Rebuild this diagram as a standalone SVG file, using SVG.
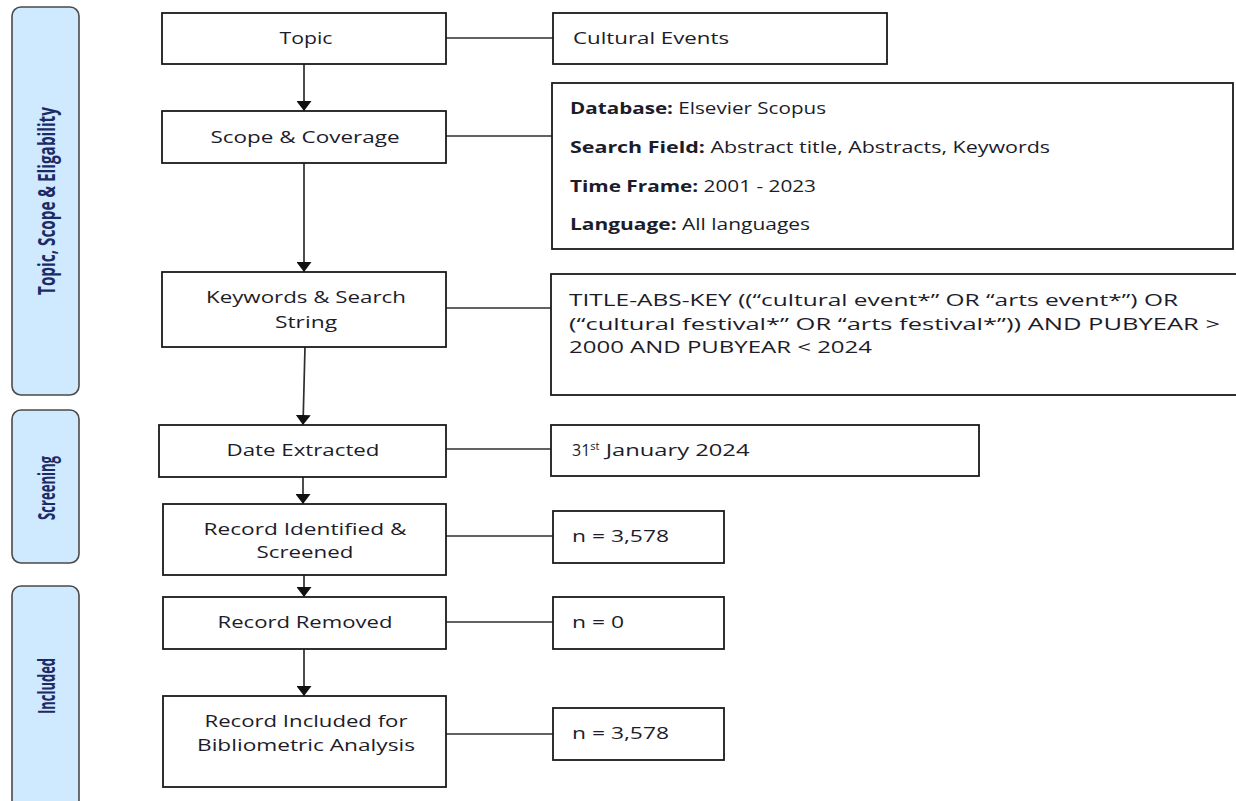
<svg xmlns="http://www.w3.org/2000/svg" width="1236" height="801" viewBox="0 0 1236 801">
<style>
.bg{fill:#ffffff}
.panel{fill:#cfeaff;stroke:#4a4a4a;stroke-width:1.6}
.plabel{font-family:"Open Sans","Liberation Sans",sans-serif;font-weight:bold;font-size:24px;fill:#1c2a66}
.box{fill:#ffffff;stroke:#1a1a1a;stroke-width:1.8}
.t{font-family:"Open Sans","Liberation Sans",sans-serif;font-size:17px;fill:#1c1c2a}
.r{font-size:16px}
.b{font-weight:bold}
.conn line{stroke:#2e2e2e;stroke-width:1.7;fill:none}
.arrow{marker-end:url(#ah)}
</style>
<defs>
<marker id="ah" markerWidth="11" markerHeight="15" refX="10" refY="7.5" orient="auto" markerUnits="userSpaceOnUse">
<path d="M0,0 L10,7.5 L0,15 Z" fill="#111"/>
</marker>
</defs>
<rect class="bg" x="0" y="0" width="1236" height="801"/>

<g id="panel-topic">
<rect class="panel" x="12" y="7" width="67" height="388" rx="9"/>
<text class="plabel" transform="translate(55,201) rotate(-90)" text-anchor="middle" textLength="188" lengthAdjust="spacingAndGlyphs">Topic, Scope &amp; Eligability</text>
</g>
<g id="panel-screening">
<rect class="panel" x="12" y="410" width="67" height="153" rx="9"/>
<text class="plabel" transform="translate(55,488) rotate(-90)" text-anchor="middle" textLength="64" lengthAdjust="spacingAndGlyphs">Screening</text>
</g>
<g id="panel-included">
<rect class="panel" x="12" y="586" width="67" height="230" rx="9"/>
<text class="plabel" transform="translate(55,686) rotate(-90)" text-anchor="middle" textLength="56" lengthAdjust="spacingAndGlyphs">Included</text>
</g>

<g class="conn" id="connectors">
<line class="arrow" x1="304" y1="64" x2="304" y2="111"/>
<line class="arrow" x1="304" y1="163" x2="304" y2="272"/>
<line class="arrow" x1="305" y1="347" x2="303" y2="425"/>
<line class="arrow" x1="303" y1="477" x2="303" y2="504"/>
<line class="arrow" x1="304" y1="575" x2="304" y2="597"/>
<line class="arrow" x1="304" y1="649" x2="304" y2="696"/>
<line x1="446" y1="38" x2="553" y2="38"/>
<line x1="446" y1="136" x2="552" y2="136"/>
<line x1="446" y1="308" x2="551" y2="308"/>
<line x1="446" y1="449" x2="551" y2="449"/>
<line x1="446" y1="536" x2="553" y2="536"/>
<line x1="446" y1="622" x2="553" y2="622"/>
<line x1="446" y1="734" x2="553" y2="734"/>
</g>

<g id="topic">
<rect class="box" x="162" y="13" width="284" height="51"/>
<text class="t" x="306" y="44" text-anchor="middle" textLength="53" lengthAdjust="spacingAndGlyphs">Topic</text>
</g>
<g id="scope">
<rect class="box" x="162" y="111" width="284" height="52"/>
<text class="t" x="305" y="143" text-anchor="middle" textLength="189" lengthAdjust="spacingAndGlyphs">Scope &amp; Coverage</text>
</g>
<g id="keywords">
<rect class="box" x="162" y="272" width="284" height="75"/>
<text class="t" x="306" y="303" text-anchor="middle" textLength="200" lengthAdjust="spacingAndGlyphs">Keywords &amp; Search</text>
<text class="t" x="306" y="328" text-anchor="middle" textLength="62" lengthAdjust="spacingAndGlyphs">String</text>
</g>
<g id="date">
<rect class="box" x="159" y="425" width="287" height="52"/>
<text class="t" x="303" y="456" text-anchor="middle" textLength="153" lengthAdjust="spacingAndGlyphs">Date Extracted</text>
</g>
<g id="identified">
<rect class="box" x="163" y="504" width="283" height="71"/>
<text class="t" x="305" y="535" text-anchor="middle" textLength="203" lengthAdjust="spacingAndGlyphs">Record Identified &amp;</text>
<text class="t" x="305" y="558" text-anchor="middle" textLength="97" lengthAdjust="spacingAndGlyphs">Screened</text>
</g>
<g id="removed">
<rect class="box" x="163" y="597" width="283" height="52"/>
<text class="t" x="305" y="628" text-anchor="middle" textLength="175" lengthAdjust="spacingAndGlyphs">Record Removed</text>
</g>
<g id="included">
<rect class="box" x="163" y="696" width="283" height="91"/>
<text class="t" x="306" y="727" text-anchor="middle" textLength="203" lengthAdjust="spacingAndGlyphs">Record Included for</text>
<text class="t" x="306" y="751" text-anchor="middle" textLength="218" lengthAdjust="spacingAndGlyphs">Bibliometric Analysis</text>
</g>

<g id="cultural">
<rect class="box" x="553" y="13" width="334" height="51"/>
<text class="t r" x="573" y="44" textLength="156" lengthAdjust="spacingAndGlyphs">Cultural Events</text>
</g>
<g id="database">
<rect class="box" x="552" y="83" width="681" height="166"/>
<text class="t r" x="570" y="114" textLength="256" lengthAdjust="spacingAndGlyphs"><tspan class="b">Database:</tspan> Elsevier Scopus</text>
<text class="t r" x="570" y="153" textLength="480" lengthAdjust="spacingAndGlyphs"><tspan class="b">Search Field:</tspan> Abstract title, Abstracts, Keywords</text>
<text class="t r" x="570" y="192" textLength="246" lengthAdjust="spacingAndGlyphs"><tspan class="b">Time Frame:</tspan> 2001 - 2023</text>
<text class="t r" x="570" y="230" textLength="240" lengthAdjust="spacingAndGlyphs"><tspan class="b">Language:</tspan> All languages</text>
</g>
<g id="search-string">
<rect class="box" x="551" y="274" width="690" height="121"/>
<text class="t r" x="569" y="306" textLength="609" lengthAdjust="spacingAndGlyphs">TITLE-ABS-KEY ((“cultural event*” OR “arts event*”) OR</text>
<text class="t r" x="569" y="330" textLength="651" lengthAdjust="spacingAndGlyphs">(“cultural  festival*”  OR  “arts  festival*”))  AND  PUBYEAR  &gt;</text>
<text class="t r" x="569" y="353" textLength="303" lengthAdjust="spacingAndGlyphs">2000 AND PUBYEAR &lt; 2024</text>
</g>
<g id="date-value">
<rect class="box" x="551" y="425" width="428" height="51"/>
<text class="t r" x="572" y="456">31<tspan font-size="11" dy="-6">st</tspan><tspan dy="6" textLength="150" lengthAdjust="spacingAndGlyphs"> January 2024</tspan></text>
</g>
<g id="n-identified">
<rect class="box" x="553" y="511" width="171" height="52"/>
<text class="t r" x="572" y="542" textLength="97" lengthAdjust="spacingAndGlyphs">n = 3,578</text>
</g>
<g id="n-removed">
<rect class="box" x="553" y="597" width="171" height="52"/>
<text class="t r" x="572" y="628" textLength="52" lengthAdjust="spacingAndGlyphs">n = 0</text>
</g>
<g id="n-included">
<rect class="box" x="553" y="708" width="171" height="52"/>
<text class="t r" x="572" y="739" textLength="97" lengthAdjust="spacingAndGlyphs">n = 3,578</text>
</g>
</svg>
